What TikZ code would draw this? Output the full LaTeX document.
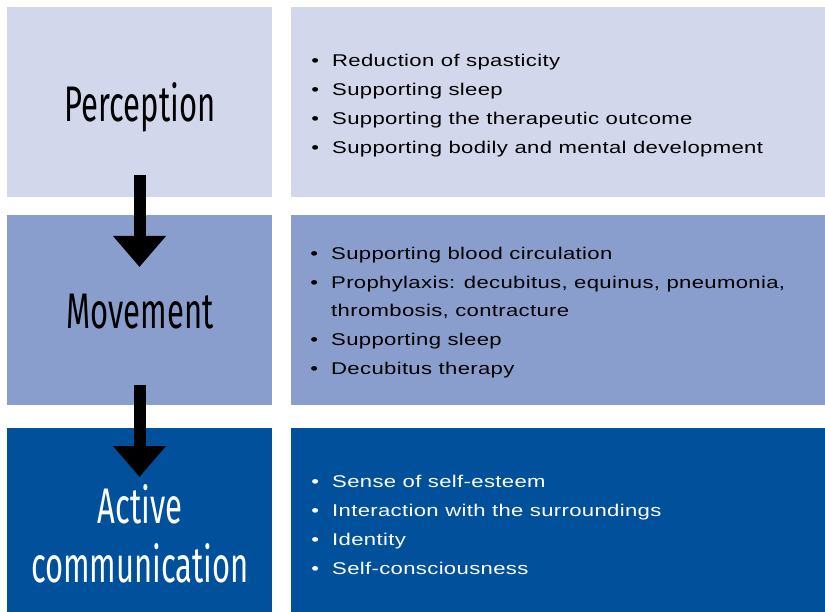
\documentclass[tikz,border=0pt]{standalone}
\usepackage{fontspec}
\setmainfont{Liberation Sans}
\newfontfamily\itemfont{Liberation Sans}[FakeStretch=1.3,LetterSpace=2]
\newfontfamily\titlefont{Fira Sans}[FakeStretch=0.62]
\usetikzlibrary{arrows.meta}
\definecolor{rowOne}{RGB}{210,215,236}
\definecolor{rowTwo}{RGB}{138,158,206}
\definecolor{rowThree}{RGB}{0,80,156}
\newcommand{\bul}{\llap{\textbullet\hspace{13pt}}}

\begin{document}
\begin{tikzpicture}
[x=1pt,y=-1pt,%
  boxDecorate/.style={draw=none,inner sep=0pt,anchor=north west},%
  titleDecorate/.style={font=\titlefont\fontsize{50}{50}\selectfont,anchor=base,inner sep=0pt},%
  itemDecorate/.style={font=\itemfont\fontsize{17}{17}\selectfont,anchor=base west,inner sep=0pt},%
  arrowDecorate/.style={-{Triangle[width=51pt,length=31pt]},line width=12pt}]
\useasboundingbox (0,0) rectangle (825,612);
%% boxes
\foreach \name/\y/\h/\col in {perc/7/190/rowOne, move/215/190/rowTwo, comm/428/184/rowThree}
{
  \node[boxDecorate,fill=\col,minimum width=265pt,minimum height=\h pt] (\name L) at (7,\y) {};
  \node[boxDecorate,fill=\col,minimum width=534pt,minimum height=\h pt] (\name R) at (291,\y) {};
}
%% titles
\node[titleDecorate] (percT) at (140,122) {Perception};
\node[titleDecorate] (moveT) at (140,329) {Movement};
\node[titleDecorate,text=white] (commT1) at (140,523) {Active};
\node[titleDecorate,text=white] (commT2) at (140,582) {communication};
%% bullet lists
\foreach \txt [count=\i] in {\bul Reduction of spasticity, \bul Supporting sleep,
  \bul Supporting the therapeutic outcome, \bul Supporting bodily and mental development}
  \node[itemDecorate] (percI\i) at (332,67+29*\i-29) {\txt};
\foreach \txt [count=\i] in {\bul Supporting blood circulation,
  {\bul Prophylaxis: decubitus, equinus, pneumonia,}, {thrombosis, contracture},
  \bul Supporting sleep, \bul Decubitus therapy}
  \node[itemDecorate] (moveI\i) at (331,260+28.5*\i-28.5) {\txt};
\foreach \txt [count=\i] in {\bul Sense of self-esteem, \bul Interaction with the surroundings,
  \bul Identity, \bul Self-consciousness}
  \node[itemDecorate,text=white] (commI\i) at (332,487+29.3*\i-29.3) {\txt};
%% arrows between rows
\coordinate (arrOneS) at (139.5,175);
\coordinate (arrOneE) at (139.5,267);
\coordinate (arrTwoS) at (139.5,385);
\coordinate (arrTwoE) at (139.5,477);
\draw[arrowDecorate] (arrOneS) -- (arrOneE);
\draw[arrowDecorate] (arrTwoS) -- (arrTwoE);
\end{tikzpicture}
\end{document}
